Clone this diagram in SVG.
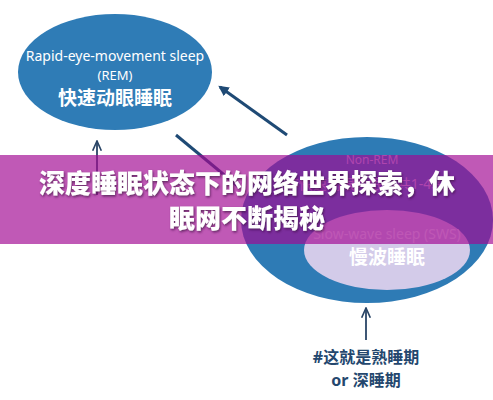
<svg xmlns="http://www.w3.org/2000/svg" width="493" height="400" viewBox="0 0 493 400">
<style>
.w{fill:#ffffff;font-family:"Noto Sans","Noto Sans CJK SC",sans-serif;text-anchor:middle}
.lav{fill:#c9bfe6;font-family:"Noto Sans","Noto Sans CJK SC",sans-serif;text-anchor:middle}
.dk{fill:#24476e;font-family:"Noto Sans","Noto Sans CJK SC",sans-serif;text-anchor:middle;font-weight:bold}
.ln{stroke:#1f4a75;stroke-width:3;fill:none}
.thin{stroke:#2a4566;stroke-width:1.8;fill:none}
.ban{fill:#ffffff;font-family:"Noto Sans CJK SC",sans-serif;font-weight:900;font-size:26px;text-anchor:middle}
</style>
<defs>
<marker id="ah" viewBox="0 0 10 10" refX="8" refY="5" markerWidth="3.5" markerHeight="3.5" orient="auto-start-reverse"><path d="M0,0 L10,5 L0,10 z" fill="#1f4a75"/></marker>
<marker id="ah2" viewBox="0 0 10 10" refX="9" refY="5" markerWidth="6" markerHeight="6" orient="auto-start-reverse"><path d="M0,1 L9,5 L0,9" fill="none" stroke="#2a4566" stroke-width="1.5"/></marker>
<filter id="sh" x="-5%" y="-20%" width="110%" height="140%"><feDropShadow dx="1" dy="1.5" stdDeviation="1" flood-color="#3a1040" flood-opacity="0.7"/></filter>
</defs>
<rect width="493" height="400" fill="#ffffff"/>
<g id="rem">
<ellipse cx="115" cy="72" rx="97" ry="58" fill="#2f7cb6"/>
<text class="w" x="115" y="61" font-size="14">Rapid-eye-movement sleep</text>
<text class="w" x="115" y="80" font-size="13">(REM)</text>
<text class="w" x="115" y="105" font-size="19" font-weight="bold">快速动眼睡眠</text>
</g>
<g id="nonrem">
<ellipse cx="367" cy="220" rx="126" ry="83" fill="#2e7bb5"/>
<text class="lav" x="372" y="164" font-size="12">Non-REM</text>
<text class="lav" x="372" y="189" font-size="14">非快速动眼睡眠（共1-4段）</text>
</g>
<g id="sws">
<ellipse cx="387" cy="250" rx="83" ry="40" fill="#d3cbe9"/>
<text class="w" x="387" y="239" font-size="14" fill-opacity="0.9">Slow-wave sleep (SWS)</text>
<text class="w" x="387" y="264" font-size="19" font-weight="bold">慢波睡眠</text>
</g>
<g id="connectors">
<line class="ln" x1="287" y1="135" x2="220" y2="87" marker-end="url(#ah)"/>
<line class="ln" x1="176" y1="135" x2="240" y2="188"/>
<line class="thin" x1="97" y1="195" x2="97" y2="141" marker-end="url(#ah2)"/>
<line class="thin" x1="366" y1="340" x2="366" y2="308" marker-end="url(#ah2)"/>
</g>
<g id="label">
<text class="dk" x="366" y="363" font-size="16">#这就是熟睡期</text>
<text class="dk" x="366" y="386" font-size="16">or 深睡期</text>
</g>
<g id="banner">
<rect x="0" y="155" width="493" height="89" fill="#a20a93" fill-opacity="0.68"/>
<g filter="url(#sh)">
<text class="ban" x="247" y="193">深度睡眠状态下的网络世界探索，休</text>
<text class="ban" x="247" y="228">眠网不断揭秘</text>
</g>
</g>
</svg>
